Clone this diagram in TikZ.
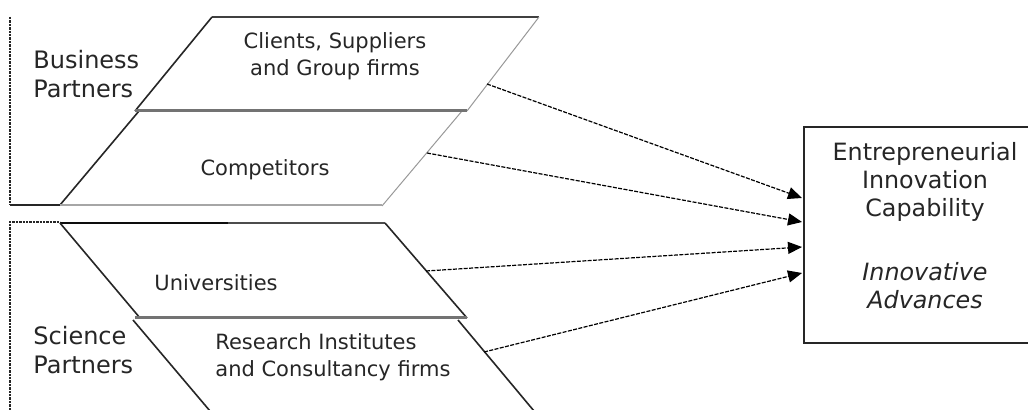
\documentclass[tikz,border=0pt]{standalone}
\usepackage{fontspec}
\setmainfont{DejaVu Sans}
\usetikzlibrary{arrows.meta}
\begin{document}
\begin{tikzpicture}[x=0.5pt,y=-0.5pt,
  inlbl/.style={font=\fontsize{10.5}{13.6}\selectfont, align=center, inner sep=0pt, text=black!85},
  outlbl/.style={font=\fontsize{12}{14.2}\selectfont, align=left, inner sep=0pt, anchor=west, text=black!85},
  boxlbl/.style={font=\fontsize{11.9}{13.9}\selectfont, align=center, inner sep=0pt, text=black!85},
  frameline/.style={black!85, line width=0.6pt, dash pattern=on 1.2pt off 0.5pt},
  topedge/.style={black!75, line width=1.1pt},
  midedge/.style={black!55, line width=1.5pt},
  darkside/.style={black!85, line width=0.8pt},
  lightside/.style={black!40, line width=0.5pt},
  flow/.style={black, line width=0.6pt, dash pattern=on 2pt off 0.7pt, -{Triangle[length=7pt,width=6pt]}},
  ]
\useasboundingbox (0,0) rectangle (1028,410);
\fill[white] (0,0) rectangle (1028,410);

% Business Partners frame
\draw[frameline] (10,17) -- (10,205);
\draw[black!85, line width=0.7pt] (10,205) -- (60,205);
% Science Partners frame
\draw[frameline] (10,410) -- (10,222) -- (60,222);

% Clients parallelogram (P1)
\draw[topedge] (212,17) -- (539,17);
\draw[darkside] (212,17) -- (135,111);
\draw[lightside] (539,17) -- (467,111);
% Competitors parallelogram (P2)
\draw[darkside] (139,111) -- (60,205);
\draw[lightside] (462,111) -- (382,206);
\draw[black!35, line width=1pt] (60,205) -- (382,205);
\draw[midedge] (135,111) -- (467,111);

% Universities parallelogram (P3)
\draw[black!70, line width=1.1pt] (60,223) -- (385,223);
\draw[black!95, line width=1.1pt] (60,223) -- (228,223);
\draw[darkside] (60,223) -- (140,318);
\draw[darkside] (385,223) -- (467,318);
% Research parallelogram (P4)
\draw[darkside] (133,320) -- (210,411);
\draw[darkside] (458,320) -- (534,411);
\draw[midedge] (135,318) -- (467,318);

% labels
\node[outlbl] (bp) at (33,74) {Business\\Partners};
\node[outlbl] (sp) at (33,350) {Science\\Partners};
\node[inlbl] (csg) at (335,56) {Clients, Suppliers\\and Group firms};
\node[inlbl] (comp) at (265,170) {Competitors};
\node[inlbl] (univ) at (216,283) {Universities};
\node[inlbl, align=left, anchor=west] (ric) at (215,357) {Research Institutes\\and Consultancy firms};

% target box
\node[draw=black!85, line width=0.8pt, anchor=north west, inner sep=0pt,
      minimum width=116pt, minimum height=108pt] (eic) at (803,126) {};
\node[boxlbl] (eictxt) at (925,182) {Entrepreneurial\\Innovation\\Capability};
\node[boxlbl, font=\fontsize{11.9}{13.9}\selectfont\itshape] (iatxt) at (925,286) {Innovative\\Advances};

% arrow start and end points
\coordinate (s1) at (487,84);
\coordinate (s2) at (427,153);
\coordinate (s3) at (426,271);
\coordinate (s4) at (484,352);
\coordinate (e1) at (802,198);
\coordinate (e2) at (802,222);
\coordinate (e3) at (802,247);
\coordinate (e4) at (802,273);
\draw[flow] (s1) -- (e1);
\draw[flow] (s2) -- (e2);
\draw[flow] (s3) -- (e3);
\draw[flow] (s4) -- (e4);
\end{tikzpicture}
\end{document}
